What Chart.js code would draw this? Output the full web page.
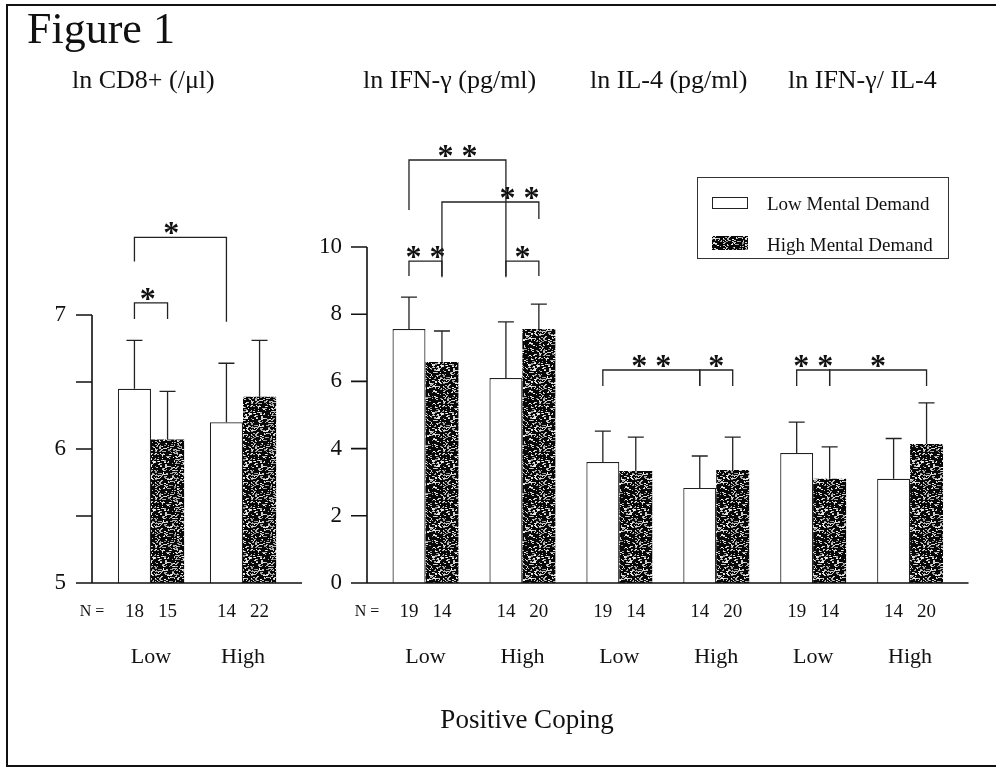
<!DOCTYPE html>
<html>
<head>
<meta charset="utf-8">
<title>Figure 1</title>
<script src="https://cdn.jsdelivr.net/npm/chart.js@4.4.1/dist/chart.umd.min.js"></script>
<style>
  body { margin: 0; background: #fff; }
  #fig { position: relative; width: 996px; height: 767px; overflow: hidden; background: #fff;
         font-family: "Liberation Serif", "Times New Roman", serif; color: #111; }
  #fig canvas { position: absolute; left: 0; top: 0; }
  #frame { position: absolute; left: 6px; top: 4px; width: 1010px; height: 759px;
           border: 2px solid #111; border-right: none; }
  .t { position: absolute; white-space: nowrap; line-height: 1; }
  .h { font-size: 26px; top: 67px; }
  #legend { position: absolute; left: 697px; top: 177px; width: 250px; height: 80px; border: 1px solid #333; }
  #legend .sw { position: absolute; left: 14px; width: 36px; }
  #legend .lt { position: absolute; left: 69px; font-size: 19px; line-height: 1; white-space: nowrap; }
</style>
</head>
<body>
<div id="fig">
  <div id="frame"></div>
  <canvas id="cd8" width="996" height="767"></canvas>
  <canvas id="cyto" width="996" height="767"></canvas>
  <div class="t" style="left:27px;top:7px;font-size:44px">Figure 1</div>
  <div class="t h" style="left:72px">ln CD8+ (/μl)</div>
  <div class="t h" style="left:363px">ln IFN-γ (pg/ml)</div>
  <div class="t h" style="left:590px">ln IL-4 (pg/ml)</div>
  <div class="t h" style="left:788px">ln IFN-γ/ IL-4</div>
  <div class="t" style="left:0;width:1054px;text-align:center;top:706px;font-size:27px">Positive Coping</div>
  <div id="legend">
    <div class="sw" id="swLow" style="top:19px;height:12px;border:1px solid #222;box-sizing:border-box;background:#fff"></div>
    <div class="lt" id="ltLow" style="top:16px"></div>
    <div class="sw" id="swHigh" style="top:58px;height:14px"></div>
    <div class="lt" id="ltHigh" style="top:57px"></div>
  </div>
</div>
<script>
// series labels
const demandLabels = ['Low Mental Demand', 'High Mental Demand'];

// left panel: ln CD8+ (/ul), x = positive coping
const cd8Groups = ['Low', 'High'];
const cd8LowMD = [6.45, 6.20];
const cd8HighMD = [6.07, 6.39];
const cd8LowSD = [0.36, 0.44];
const cd8HighSD = [0.36, 0.42];
const cd8LowN = [18, 14];
const cd8HighN = [15, 22];

// right panel: ln IFN-g, ln IL-4, ln IFN-g / IL-4
const cytoGroups = ['Low', 'High', 'Low', 'High', 'Low', 'High'];
const cytoLowMD = [7.56, 6.10, 3.60, 2.83, 3.87, 3.10];
const cytoHighMD = [6.58, 7.56, 3.33, 3.36, 3.10, 4.14];
const cytoLowSD = [0.95, 1.67, 0.92, 0.95, 0.92, 1.20];
const cytoHighSD = [0.92, 0.74, 1.01, 0.98, 0.95, 1.22];
const cytoLowN = [19, 14, 19, 14, 19, 14];
const cytoHighN = [14, 20, 14, 20, 14, 20];

// significance brackets: ends are [category, dataset], heights in axis units
const cd8Sig = [
  { a: [0, 0], b: [0, 1], y: 7.09, la: 6.97, lb: 6.97, txt: '*', at: 0.4 },
  { a: [0, 0], b: [1, 0], y: 7.58, la: 7.40, lb: 6.95, txt: '*', at: 0.4 }
];
const cytoSig = [
  { a: [0, 0], b: [0, 1], y: 9.58, la: 9.14, lb: 9.14, txt: '**', at: 0.5 },
  { a: [0, 0], b: [1, 0], y: 12.59, la: 11.1, lb: 9.1, txt: '**', at: 0.5 },
  { a: [0, 1], b: [1, 1], y: 11.34, la: 9.1, lb: 10.83, txt: '**', at: 0.8 },
  { a: [1, 0], b: [1, 1], y: 9.58, la: 9.14, lb: 9.14, txt: '*', at: 0.5 },
  { a: [2, 0], b: [3, 0], y: 6.34, la: 5.86, lb: 5.86, txt: '**', at: 0.5 },
  { a: [3, 0], b: [3, 1], y: 6.34, la: 5.86, lb: 5.86, txt: '*', at: 0.5 },
  { a: [4, 0], b: [4, 1], y: 6.34, la: 5.86, lb: 5.86, txt: '**', at: 0.5 },
  { a: [4, 1], b: [5, 1], y: 6.34, la: 5.86, lb: 5.86, txt: '*', at: 0.5 }
];

Chart.defaults.font.family = '"Liberation Serif", "Times New Roman", serif';
Chart.defaults.color = '#111';

// stippled fill of the dark bars (fixed seed, it is only a texture)
function speckle() {
  const c = document.createElement('canvas');
  c.width = c.height = 48;
  const g = c.getContext('2d');
  g.fillStyle = '#080808';
  g.fillRect(0, 0, 48, 48);
  let s = 4242;
  const next = () => (s = (s * 16807) % 2147483647) / 2147483647;
  for (let i = 0; i < 560; i++) {
    const px = Math.floor(next() * 48), py = Math.floor(next() * 48);
    const v = 140 + Math.floor(next() * 110);
    g.fillStyle = 'rgb(' + v + ',' + v + ',' + v + ')';
    g.fillRect(px, py, next() < 0.5 ? 2 : 1, 1);
  }
  return c;
}
const tex = speckle();

// per-panel settings for the decor plugin (kept out of chart options)
const panelCfg = {
  cd8: { gap: 13, sig: cd8Sig, top: 315, labelRight: 66 },
  cyto: { gap: 10, sig: cytoSig, top: 247, labelRight: 342 }
};

const decor = {
  id: 'decor',
  beforeLayout(chart) {
    chart.options.layout.padding.top = panelCfg[chart.canvas.id].top;
  },
  afterDatasetsDraw(chart) {
    const o = panelCfg[chart.canvas.id];
    const { ctx, chartArea, scales: { y } } = chart;
    const ax = chartArea.left - o.gap;
    const bottom = y.getPixelForValue(y.min);
    ctx.save();
    ctx.strokeStyle = '#111';
    ctx.fillStyle = '#111';
    ctx.lineWidth = 1.6;
    ctx.beginPath();
    ctx.moveTo(ax, y.getPixelForValue(y.max));
    ctx.lineTo(ax, bottom);
    ctx.moveTo(ax, bottom);
    ctx.lineTo(chartArea.right + o.gap, bottom);
    y.ticks.forEach(t => {
      const py = y.getPixelForValue(t.value);
      ctx.moveTo(ax - 16, py);
      ctx.lineTo(ax, py);
    });
    ctx.stroke();

    // error bars (upper only)
    ctx.lineWidth = 1.3;
    ctx.strokeStyle = '#222';
    chart.data.datasets.forEach((ds, di) => {
      chart.getDatasetMeta(di).data.forEach((bar, i) => {
        const top = y.getPixelForValue(ds.data[i] + ds.sd[i]);
        ctx.beginPath();
        ctx.moveTo(bar.x, bar.y);
        ctx.lineTo(bar.x, top);
        ctx.moveTo(bar.x - 8, top);
        ctx.lineTo(bar.x + 8, top);
        ctx.stroke();
      });
    });

    // N row
    ctx.textAlign = 'center';
    ctx.textBaseline = 'middle';
    ctx.font = '16px "Liberation Serif"';
    ctx.fillText('N =', ax, bottom + 29);
    ctx.font = '19px "Liberation Serif"';
    chart.data.datasets.forEach((ds, di) => {
      chart.getDatasetMeta(di).data.forEach((bar, i) => {
        ctx.fillText(String(ds.n[i]), bar.x, bottom + 29);
      });
    });

    // significance brackets
    const px = e => chart.getDatasetMeta(e[1]).data[e[0]].x;
    ctx.lineWidth = 1.3;
    ctx.textBaseline = 'alphabetic';
    ctx.font = 'bold 32px "Liberation Serif"';
    o.sig.forEach(s => {
      const x1 = px(s.a), x2 = px(s.b), yy = y.getPixelForValue(s.y);
      ctx.beginPath();
      ctx.moveTo(x1, y.getPixelForValue(s.la));
      ctx.lineTo(x1, yy);
      ctx.lineTo(x2, yy);
      ctx.lineTo(x2, y.getPixelForValue(s.lb));
      ctx.stroke();
      ctx.fillText(s.txt.split('').join(' '), x1 + (x2 - x1) * s.at, yy + 6);
    });
    ctx.restore();
  }
};

function panel(id, groups, lowMD, highMD, lowSD, highSD, lowN, highN, yMin, yMax, step, yWidth, right, catPct) {
  const ctx = document.getElementById(id).getContext('2d');
  const pat = ctx.createPattern(tex, 'repeat');
  return new Chart(ctx, {
    type: 'bar',
    data: {
      labels: groups,
      datasets: [{
        label: demandLabels[0],
        data: lowMD, sd: lowSD, n: lowN,
        backgroundColor: '#fff',
        borderColor: '#222',
        borderWidth: 1.2
      }, {
        label: demandLabels[1],
        data: highMD, sd: highSD, n: highN,
        backgroundColor: pat,
        borderColor: '#000',
        borderWidth: 0
      }]
    },
    options: {
      responsive: false,
      animation: false,
      events: [],
      layout: { padding: { top: 0, left: 0, right: right, bottom: 0 } },
      datasets: { bar: { categoryPercentage: catPct, barPercentage: 1 } },
      plugins: {
        legend: { display: false },
        tooltip: { enabled: false }
      },
      scales: {
        x: {
          grid: { display: false, drawTicks: false },
          border: { display: false },
          ticks: { padding: 61, maxRotation: 0, font: { size: 22 } },
          afterFit: s => { s.height = 184; }
        },
        y: {
          min: yMin, max: yMax,
          grid: { display: false, drawTicks: false },
          border: { display: false },
          ticks: {
            stepSize: step,
            padding: yWidth - panelCfg[id].labelRight,
            font: { size: 23 },
            callback: v => Number.isInteger(v) ? v : ''
          },
          afterFit: s => { s.width = yWidth; }
        }
      }
    },
    plugins: [decor]
  });
}

panel('cd8', cd8Groups, cd8LowMD, cd8HighMD, cd8LowSD, cd8HighSD, cd8LowN, cd8HighN,
  5, 7, 0.5, 105, 996 - 289, 0.72);
panel('cyto', cytoGroups, cytoLowMD, cytoHighMD, cytoLowSD, cytoHighSD, cytoLowN, cytoHighN,
  0, 10, 2, 377, 996 - 961, 0.68);

document.getElementById('ltLow').textContent = demandLabels[0];
document.getElementById('ltHigh').textContent = demandLabels[1];
document.getElementById('swHigh').style.background = 'url(' + tex.toDataURL() + ')';
</script>
</body>
</html>
